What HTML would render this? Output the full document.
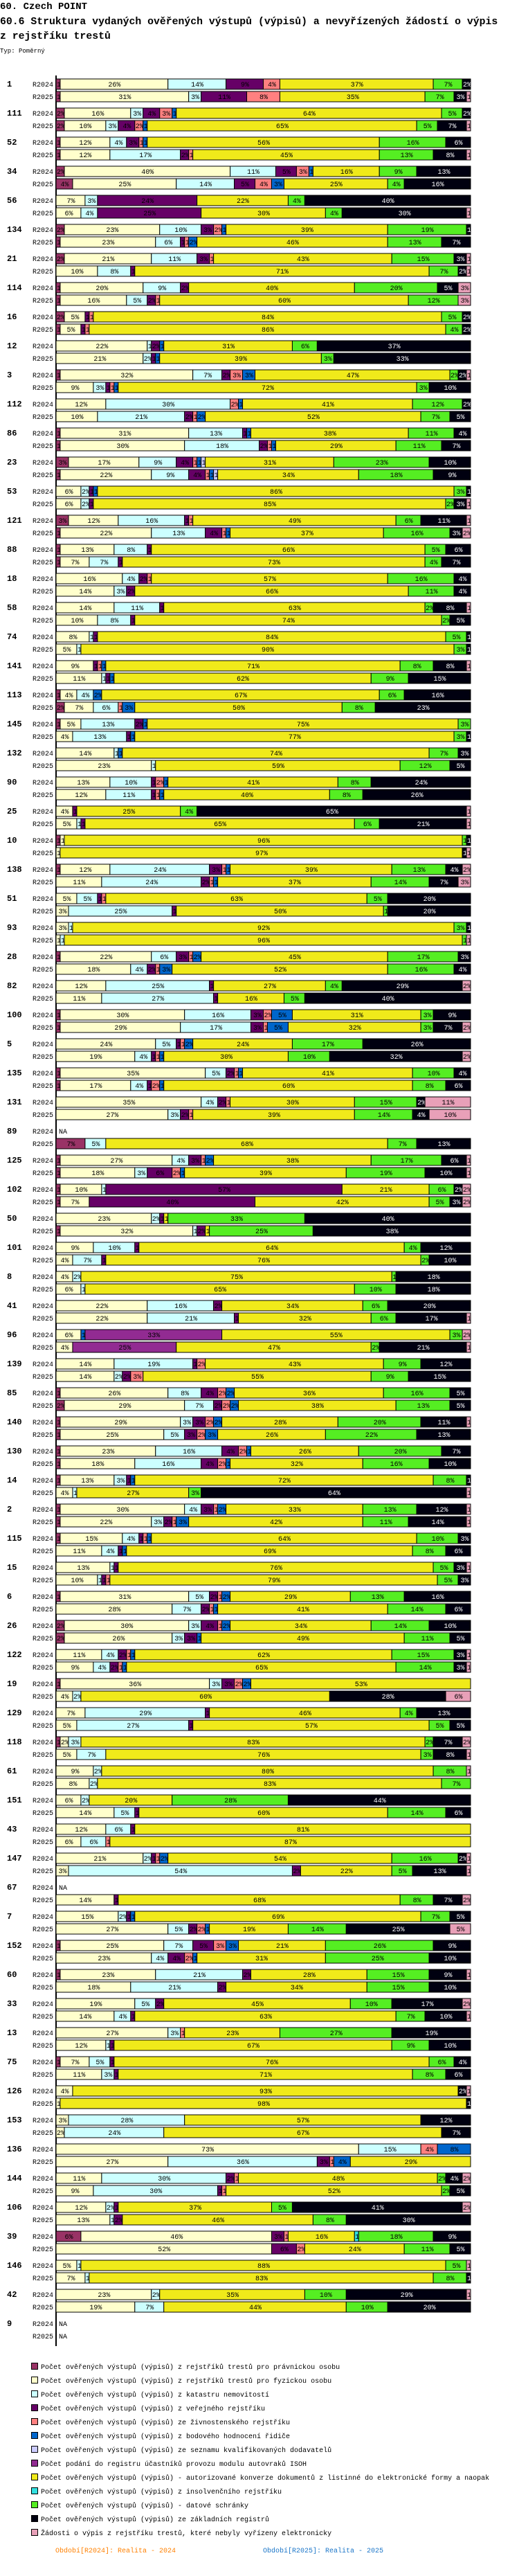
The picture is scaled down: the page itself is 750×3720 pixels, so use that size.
<!DOCTYPE html>
<html><head><meta charset="utf-8">
<style>
html,body{margin:0;padding:0;background:#fff;}
svg{display:block;}
</style></head>
<body>
<svg id="chart" xmlns="http://www.w3.org/2000/svg" width="750" height="3720" viewBox="0 0 750 3720">
<text x="0" y="13" font-family="Liberation Mono, monospace" font-weight="bold" font-size="14">60. Czech POINT</text>
<text x="0" y="35" font-family="Liberation Mono, monospace" font-weight="bold" font-size="14.8">60.6 Struktura vydaných ověřených výstupů (výpisů) a nevyřízených žádostí o výpis</text>
<text x="0" y="56" font-family="Liberation Mono, monospace" font-weight="bold" font-size="14.8"> z rejstříku trestů</text>
<text x="0" y="76" font-family="Liberation Mono, monospace" font-size="9">Typ: Poměrný</text>
<g id="bars"></g>
<g id="legend"></g>
</svg>
<script>
const groupLabels = ["1","111","52","34","56","134","21","114","16","12","3","112","86","23","53","121","88","18","58","74","141","113","145","132","90","25","10","138","51","93","28","82","100","5","135","131","89","125","102","50","101","8","41","96","139","85","140","130","14","2","115","15","6","26","122","19","129","118","61","151","43","147","67","7","152","60","33","13","75","126","153","136","144","106","39","146","42","9"];
const seriesNames = ["Počet ověřených výstupů (výpisů) z rejstříků trestů pro právnickou osobu","Počet ověřených výstupů (výpisů) z rejstříků trestů pro fyzickou osobu","Počet ověřených výstupů (výpisů) z katastru nemovitostí","Počet ověřených výstupů (výpisů) z veřejného rejstříku","Počet ověřených výstupů (výpisů) ze živnostenského rejstříku","Počet ověřených výstupů (výpisů) z bodového hodnocení řidiče","Počet ověřených výstupů (výpisů) ze seznamu kvalifikovaných dodavatelů","Počet podání do registru účastníků provozu modulu autovraků ISOH","Počet ověřených výstupů (výpisů) - autorizované konverze dokumentů z listinné do elektronické formy a naopak","Počet ověřených výstupů (výpisů) z insolvenčního rejstříku","Počet ověřených výstupů (výpisů) - datové schránky","Počet ověřených výstupů (výpisů) ze základních registrů","Žádosti o výpis z rejstříku trestů, které nebyly vyřízeny elektronicky"];
const seriesColors = ["#993366","#ffffcc","#ccffff","#660066","#ff8080","#0066cc","#ccccff","#922b92","#f0ea1a","#33e0e0","#55ee22","#000010","#e8a0b8"];
const periods = ["R2024","R2025"];
const r2024 = [
[1,26,14,9,4,0,0,0,37,0,7,2,0],[2,16,3,4,3,1,0,0,64,0,5,2,0],[1,12,4,3,1,1,0,0,56,0,16,6,0],[2,40,11,5,3,1,0,0,16,0,9,13,0],[0,7,3,24,0,0,0,0,22,0,4,40,0],
[2,23,10,3,2,1,0,0,39,0,19,1,0],[2,21,11,3,1,0,0,0,43,0,15,3,1],[1,20,9,2,0,0,0,0,40,0,20,5,3],[2,5,0,1,1,0,0,0,84,0,5,2,0],[0,22,1,2,0,1,0,0,31,0,6,37,0],
[1,32,7,2,3,3,0,0,47,0,2,2,1],[0,12,30,0,2,1,0,0,41,0,12,2,0],[1,31,13,1,0,1,0,0,38,0,11,4,0],[3,17,9,4,1,1,1,0,31,0,23,10,0],[0,6,2,1,0,1,0,0,86,0,3,1,0],
[3,12,16,1,1,0,0,0,49,0,6,11,1],[1,13,8,1,0,0,0,0,66,0,5,6,0],[0,16,4,2,1,0,0,0,57,0,16,4,0],[0,14,11,1,0,0,0,0,63,0,2,8,1],[0,8,1,1,0,0,0,0,84,0,5,1,0],
[0,9,0,1,1,1,0,0,71,0,8,8,1],[1,4,4,0,0,2,0,0,67,0,6,16,0],[1,5,13,2,0,1,0,0,75,0,3,0,0],[0,14,1,0,0,1,0,0,74,0,7,3,0],[0,13,10,1,2,1,0,0,41,0,8,24,0],
[0,4,0,1,0,0,0,0,25,0,4,65,1],[1,1,0,0,0,0,0,0,96,0,1,1,0],[1,12,24,3,1,1,0,0,39,0,13,4,2],[0,5,5,1,1,0,0,0,63,0,5,20,0],[0,3,1,0,0,0,0,0,92,0,3,1,0],
[1,22,6,3,1,2,0,0,45,0,17,3,0],[0,12,25,1,0,0,0,0,27,0,4,29,2],[1,30,16,3,2,5,0,0,31,0,3,9,0],[0,24,5,1,1,2,0,0,24,0,17,26,0],[1,35,5,2,1,1,0,0,41,0,10,4,0],
[0,35,4,2,1,0,0,0,30,0,15,2,11],null,[1,27,4,3,1,2,0,0,38,0,17,6,1],[1,10,1,57,0,0,0,0,21,0,6,2,2],[0,23,2,1,0,0,0,0,1,0,33,40,0],
[0,9,10,1,0,0,0,0,64,0,4,12,0],[0,4,2,0,0,0,0,0,75,0,1,18,0],[0,22,16,2,0,0,0,0,34,0,6,20,0],[0,6,0,0,0,1,0,33,55,0,3,0,2],[0,14,19,1,2,0,0,0,43,0,9,12,0],
[1,26,8,4,2,2,0,0,36,0,16,5,0],[1,29,3,3,2,2,0,0,28,0,20,11,1],[1,23,16,4,2,1,0,0,26,0,20,7,0],[1,13,3,1,0,1,0,0,72,0,8,1,0],[1,30,4,3,1,2,0,0,33,0,13,12,1],
[1,15,4,1,1,1,0,0,64,0,10,3,0],[0,13,1,1,0,0,0,0,76,0,5,3,1],[1,31,5,2,1,2,0,0,29,0,13,16,0],[2,30,3,4,1,2,0,0,34,0,14,10,0],[0,11,4,2,1,1,0,0,62,0,15,3,1],
[1,36,3,3,2,2,0,0,53,0,0,0,0],[0,7,29,1,0,0,0,0,46,0,4,13,0],[1,2,3,0,0,0,0,0,83,0,2,7,2],[0,9,2,0,0,0,0,0,80,0,8,0,1],[0,6,2,0,0,0,0,0,20,0,28,44,0],
[0,12,6,1,0,0,0,0,81,0,0,0,0],[0,21,2,1,1,2,0,0,54,0,16,2,1],null,[0,15,2,1,0,1,0,0,69,0,7,5,0],[1,25,7,5,3,3,0,0,21,0,26,9,0],
[1,23,21,2,0,0,0,0,28,0,15,9,1],[0,19,5,2,0,0,0,0,45,0,10,17,2],[0,27,3,0,1,0,0,0,23,0,27,19,0],[1,7,5,1,0,0,0,0,76,0,6,4,0],[0,4,0,0,0,0,0,0,93,0,0,2,1],
[0,3,28,0,0,0,0,0,57,0,0,12,0],[0,73,15,0,4,8,0,0,0,0,0,0,0],[0,11,30,2,1,0,0,0,48,0,2,4,2],[0,12,2,1,0,0,0,0,37,0,5,41,2],[6,46,0,3,1,0,0,0,16,1,18,9,0],
[0,5,1,0,0,0,0,0,88,0,5,0,1],[0,23,2,0,0,0,0,0,35,0,10,29,1],null
];
const r2025 = [
[1,31,3,11,8,0,0,0,35,0,7,3,1],[2,10,3,4,2,1,0,0,65,0,5,7,1],[1,12,17,2,1,0,0,0,45,0,13,8,1],[4,25,14,5,4,3,0,0,25,0,4,16,0],[0,6,4,25,0,0,0,0,30,0,4,30,1],
[1,23,6,1,1,2,0,0,46,0,13,7,0],[0,10,8,1,0,0,0,0,71,0,7,2,1],[1,16,5,2,1,0,0,0,60,0,12,0,3],[1,5,0,1,1,0,0,0,86,0,4,2,0],[0,21,2,1,0,1,0,0,39,0,3,33,0],
[0,9,3,1,1,1,0,0,72,0,3,10,0],[0,10,21,2,1,2,0,0,52,0,7,5,0],[1,30,18,2,1,1,0,0,29,0,11,7,0],[1,22,9,4,1,1,1,0,34,0,18,9,0],[0,6,2,1,0,0,0,0,85,0,2,3,1],
[1,22,13,4,1,1,0,0,37,0,16,3,2],[1,7,7,1,0,0,0,0,73,0,4,7,0],[0,14,3,2,0,0,0,0,66,0,11,4,0],[0,10,8,1,0,0,0,0,74,0,2,5,0],[0,5,1,0,0,0,0,0,90,0,3,1,0],
[0,11,1,1,0,1,0,0,62,0,9,15,0],[2,7,6,0,1,3,0,0,50,0,8,23,0],[0,4,13,1,0,1,0,0,77,0,3,1,0],[0,23,1,0,0,0,0,0,59,0,12,5,0],[0,12,11,1,1,1,0,0,40,0,8,26,0],
[0,5,1,1,0,0,0,0,65,0,6,21,1],[0,1,0,0,0,0,0,0,97,0,0,1,1],[0,11,24,2,1,1,0,0,37,0,14,7,3],[0,3,25,1,0,0,0,0,50,0,1,20,0],[0,1,1,0,0,0,0,0,96,0,1,0,1],
[0,18,4,2,1,3,0,0,52,0,16,4,0],[0,11,27,1,0,0,0,0,16,0,5,40,0],[1,29,17,3,1,5,0,0,32,0,3,7,2],[0,19,4,1,1,1,0,0,30,0,10,32,2],[1,17,4,1,2,1,0,0,60,0,8,6,0],
[0,27,3,2,1,0,0,0,39,0,14,4,10],[7,0,5,0,0,0,0,0,68,0,7,13,0],[1,18,3,6,2,1,0,0,39,0,19,10,1],[1,7,0,40,0,0,0,0,42,0,5,3,2],[1,32,1,2,0,0,0,0,1,0,25,38,0],
[0,4,7,1,0,0,0,0,76,0,2,10,0],[0,6,1,0,0,0,0,0,65,0,10,18,0],[0,22,21,1,0,0,0,0,32,0,6,17,1],[0,4,0,0,0,0,0,25,47,0,2,21,1],[0,14,2,2,3,0,0,0,55,0,9,15,0],
[2,29,7,2,2,2,0,0,38,0,13,5,0],[1,25,5,3,2,3,0,0,26,0,22,13,0],[1,18,16,4,2,1,0,0,32,0,16,10,0],[0,4,1,0,0,0,0,0,27,0,3,64,1],[1,22,3,2,1,3,0,0,42,0,11,14,1],
[0,11,4,1,0,1,0,0,69,0,8,6,0],[0,10,1,1,1,0,0,0,79,0,5,3,0],[0,28,7,2,1,1,0,0,41,0,14,6,0],[2,26,3,3,0,1,0,0,49,0,11,5,0],[0,9,4,2,1,1,0,0,65,0,14,3,1],
[0,4,2,0,0,0,0,0,60,0,0,28,6],[0,5,27,1,0,0,0,0,57,0,5,5,0],[0,5,7,0,0,0,0,0,76,0,3,8,1],[0,8,2,0,0,0,0,0,83,0,7,0,0],[0,14,5,1,0,0,0,0,60,0,14,6,0],
[0,6,6,0,1,0,0,0,87,0,0,0,0],[0,3,54,2,0,0,0,0,22,0,5,13,1],[0,14,0,1,0,0,0,0,68,0,8,7,2],[0,27,5,2,2,1,0,0,19,0,14,25,5],[0,23,4,4,2,1,0,0,31,0,25,10,0],
[0,18,21,2,0,0,0,0,34,0,15,10,0],[0,14,4,1,0,0,0,0,63,0,7,10,1],[0,12,1,1,0,0,0,0,67,0,9,10,0],[0,11,3,1,0,0,0,0,71,0,8,6,0],[0,1,0,0,0,0,0,0,98,0,0,1,0],
[0,2,24,0,0,0,0,0,67,0,0,7,0],[0,27,36,3,1,4,0,0,29,0,0,0,0],[0,9,30,1,1,0,0,0,52,0,2,5,0],[0,13,1,2,0,0,0,0,46,0,8,30,0],[0,52,0,6,2,0,0,0,24,0,11,5,0],
[0,7,1,0,0,0,0,0,83,0,8,1,0],[0,19,7,0,0,0,0,0,44,0,10,20,0],null
];

const NS = "http://www.w3.org/2000/svg";
const X0 = 81, XW = 599, Y0 = 114, GAP = 42, BH = 15;
const FONT = "Liberation Mono, monospace";
function xScale(frac){ return X0 + frac * XW; }
function rowY(gi, pi){ return Y0 + gi * GAP + pi * 18; }
function mk(tag, attrs){ const e = document.createElementNS(NS, tag); for (const k in attrs) e.setAttribute(k, attrs[k]); return e; }

const barsG = document.getElementById('bars');
const axis = mk('line', {x1:X0, y1:109, x2:X0, y2: Y0 + groupLabels.length*GAP - 2, stroke:'#000', 'stroke-width':2});


barsG.appendChild(axis);

groupLabels.forEach((lab, gi) => {
  const gl = mk('text', {x:10, y: rowY(gi,0)+11, 'font-family':FONT, 'font-size':12, 'font-weight':'bold'});
  gl.textContent = lab;
  
  
  barsG.appendChild(gl);
  [r2024, r2025].forEach((arr, pi) => {
    const y = rowY(gi, pi);
    const pl = mk('text', {x:47, y: y+11, 'font-family':FONT, 'font-size':10});
    pl.textContent = periods[pi];
    
    
    barsG.appendChild(pl);
    const vals = arr[gi];
    if (!vals) {
      const na = mk('text', {x:85, y:y+11, 'font-family':FONT, 'font-size':10});
      na.textContent = 'NA';
      
      
      barsG.appendChild(na);
      return;
    }
    const total = vals.reduce((a,b)=>a+b,0);
    let cum = 0;
    vals.forEach((v, si) => {
      if (v <= 0) return;
      const xa = xScale(cum/total), xb = xScale((cum+v)/total);
      cum += v;
      const r = mk('rect', {x:xa, y:y, width:xb-xa, height:BH, fill:seriesColors[si], stroke:'#000', 'stroke-width':1});
      
      
      barsG.appendChild(r);
      const w = xb - xa;
      if (w >= 4) {
        const clip = mk('svg', {x:xa+1, y:y, width:Math.max(w-1,1), height:BH});
        const t = mk('text', {x:(w-1)/2, y:11, 'text-anchor': w > 14 ? 'middle' : 'start', 'font-family':FONT, 'font-size':10, fill: si===11 ? '#fff' : '#000'});
        if (w <= 14) t.setAttribute('x', 0);
        t.textContent = v + '%';
        
        
        clip.appendChild(t);
        barsG.appendChild(clip);
      }
    });
  });
});

const legG = document.getElementById('legend');
seriesNames.forEach((name, si) => {
  const y = 3412 + si*20;
  const sq = mk('rect', {x:45.5, y:y+0.5, width:9, height:9, fill:seriesColors[si], stroke:'#000', 'stroke-width':1});
  
  
  legG.appendChild(sq);
  const t = mk('text', {x:59, y:y+9, 'font-family':FONT, 'font-size':10});
  t.textContent = name;
  
  
  legG.appendChild(t);
});
const p1 = mk('text', {x:80, y:3686, 'font-family':FONT, 'font-size':10, fill:'#ff8000'});
p1.textContent = 'Období[R2024]: Realita - 2024';


legG.appendChild(p1);
const p2 = mk('text', {x:380, y:3686, 'font-family':FONT, 'font-size':10, fill:'#1a75c8'});
p2.textContent = 'Období[R2025]: Realita - 2025';


legG.appendChild(p2);
</script>
</body></html>
